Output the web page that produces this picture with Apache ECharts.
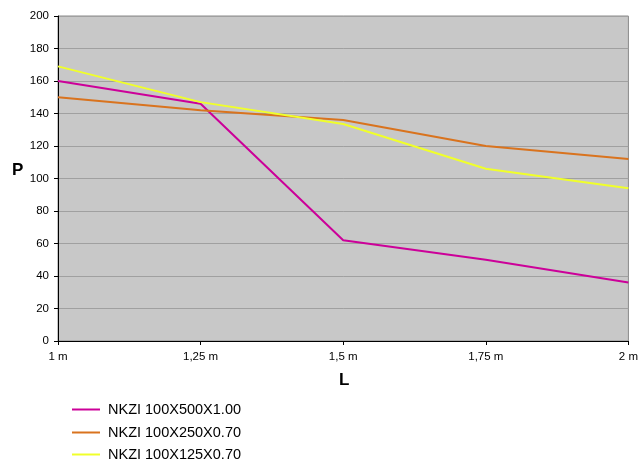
<!DOCTYPE html>
<html><head><meta charset="utf-8">
<script src="https://cdn.jsdelivr.net/npm/echarts@6/dist/echarts.min.js"></script>
<style>html,body{margin:0;padding:0;background:#fff}#c{width:641px;height:461px}</style>
</head><body><div id="c"></div>
<script>
const categories = ['1 m', '1,25 m', '1,5 m', '1,75 m', '2 m'];
const seriesNames = ['NKZI 100X500X1.00', 'NKZI 100X250X0.70', 'NKZI 100X125X0.70'];
const s1 = [160, 146, 62, 50, 36];
const s2 = [150, 142, 136, 120, 112];
const s3 = [169, 147, 133.5, 106, 94];
const yTicks = [0, 200, 20];

const colors = ['#cc0099', '#d9731e', '#f0ff2a'];
const chart = echarts.init(document.getElementById('c'), null, {renderer: 'canvas'});
const font = 'Liberation Sans, Arial, sans-serif';
const legendTops = [402, 425, 447];
chart.setOption({
  animation: false,
  color: colors,
  textStyle: {fontFamily: font},
  title: [
    {text: 'P', left: 7, top: 157, textStyle: {fontSize: 17, fontWeight: 'bold', color: '#000', fontFamily: font}},
    {text: 'L', left: 334, top: 367, textStyle: {fontSize: 17, fontWeight: 'bold', color: '#000', fontFamily: font}}
  ],
  legend: seriesNames.map((n, i) => ({
    orient: 'vertical', left: 72, top: legendTops[i], padding: 0, itemWidth: 28, itemHeight: 2, itemGap: 16,
    icon: 'rect',
    textStyle: {fontSize: 14.5, color: '#000', fontFamily: font, padding: [0, 0, 0, 3]},
    data: [n]
  })),
  grid: {left: 58, right: 12, top: 16, bottom: 120, show: true, backgroundColor: '#c8c8c8', borderColor: '#8a8a8a', borderWidth: 1},
  xAxis: {
    type: 'category', data: categories, boundaryGap: false,
    axisLine: {lineStyle: {color: '#000', width: 1}},
    axisTick: {show: true, length: 4, lineStyle: {color: '#000'}},
    axisLabel: {fontSize: 11.5, color: '#000', margin: 10, fontFamily: font},
    splitLine: {show: false}
  },
  yAxis: {
    type: 'value', min: yTicks[0], max: yTicks[1], interval: yTicks[2],
    axisLine: {show: true, lineStyle: {color: '#000', width: 1}},
    axisTick: {show: true, length: 4, lineStyle: {color: '#000'}},
    axisLabel: {fontSize: 11.5, color: '#000', margin: 9, fontFamily: font},
    splitLine: {show: true, lineStyle: {color: '#a0a0a0', width: 1}}
  },
  series: [
    {name: seriesNames[0], type: 'line', data: s1, symbol: 'none', lineStyle: {width: 2, color: colors[0]}},
    {name: seriesNames[1], type: 'line', data: s2, symbol: 'none', lineStyle: {width: 2, color: colors[1]}},
    {name: seriesNames[2], type: 'line', data: s3, symbol: 'none', lineStyle: {width: 2, color: colors[2]}}
  ]
});
</script></body></html>
